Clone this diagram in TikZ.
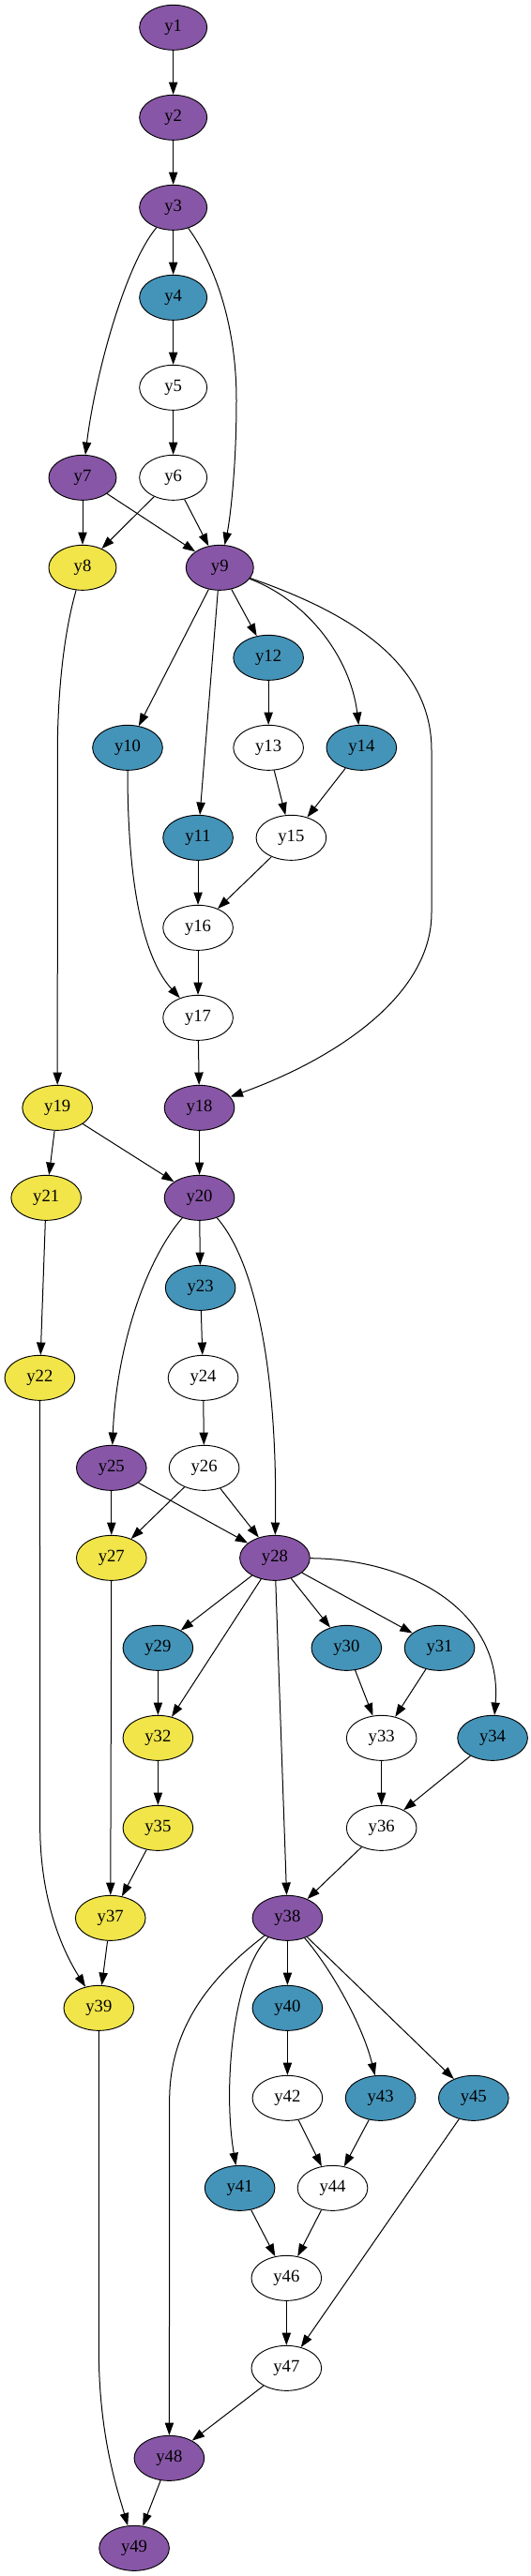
\documentclass[tikz,border=0pt]{standalone}
\usepackage{fontspec}
\setmainfont{Liberation Serif}
\usetikzlibrary{arrows.meta,shapes.geometric}
\definecolor{pur}{HTML}{8856A7}
\definecolor{blu}{HTML}{4494B9}
\definecolor{yel}{HTML}{F1E54A}
\tikzset{
  nd/.style={ellipse, draw=black, line width=0.7pt, inner sep=0pt, minimum width=56pt, minimum height=36pt, font=\fontsize{14}{16}\selectfont},
  nds/.style={nd, minimum width=54pt},
  P/.style={fill=pur}, B/.style={fill=blu}, Y/.style={fill=yel}, W/.style={fill=white},
  e/.style={draw=black, line width=0.75pt, -{Triangle[length=10pt,width=7pt]}}
}
\begin{document}
\begin{tikzpicture}[x=1pt,y=-1pt]
\useasboundingbox (0,0) rectangle (423.75,2060.25);
% rank r: y = 22 + 72 r
\node[nds,P] (y1) at (138.5,22) {y1};
\node[nds,P] (y2) at (138.5,94) {y2};
\node[nds,P] (y3) at (138.5,166) {y3};
\node[nds,B] (y4) at (138.5,238) {y4};
\node[nds,W] (y5) at (138.5,310) {y5};
\node[nds,W] (y6) at (138.5,382) {y6};
\node[nds,P] (y7) at (66,382) {y7};
\node[nds,Y] (y8) at (66,454) {y8};
\node[nds,P] (y9) at (175.7,454) {y9};
\node[nd,B] (y12) at (214.6,526) {y12};
\node[nd,B] (y10) at (102,598) {y10};
\node[nd,W] (y13) at (214.6,598) {y13};
\node[nd,B] (y14) at (289,598) {y14};
\node[nd,B] (y11) at (158.3,670) {y11};
\node[nd,W] (y15) at (232.8,670) {y15};
\node[nd,W] (y16) at (158.3,742) {y16};
\node[nd,W] (y17) at (158.3,814) {y17};
\node[nd,Y] (y19) at (45.9,886) {y19};
\node[nd,P] (y18) at (159.4,886) {y18};
\node[nd,Y] (y21) at (36.9,958) {y21};
\node[nd,P] (y20) at (159.4,958) {y20};
\node[nd,B] (y23) at (160.2,1030) {y23};
\node[nd,Y] (y22) at (31.8,1102) {y22};
\node[nd,W] (y24) at (162.4,1102) {y24};
\node[nd,P] (y25) at (89.1,1174) {y25};
\node[nd,W] (y26) at (163.2,1174) {y26};
\node[nd,Y] (y27) at (89.1,1246) {y27};
\node[nd,P] (y28) at (219.7,1246) {y28};
\node[nd,B] (y29) at (126.3,1318) {y29};
\node[nd,B] (y30) at (277,1318) {y30};
\node[nd,B] (y31) at (351.4,1318) {y31};
\node[nd,Y] (y32) at (126.3,1390) {y32};
\node[nd,W] (y33) at (305,1390) {y33};
\node[nd,B] (y34) at (393.8,1390) {y34};
\node[nd,Y] (y35) at (126.3,1462) {y35};
\node[nd,W] (y36) at (305,1462) {y36};
\node[nd,Y] (y37) at (88.3,1534) {y37};
\node[nd,P] (y38) at (229.8,1534) {y38};
\node[nd,Y] (y39) at (79,1606) {y39};
\node[nd,B] (y40) at (229.8,1606) {y40};
\node[nd,W] (y42) at (229.8,1678) {y42};
\node[nd,B] (y43) at (304.2,1678) {y43};
\node[nd,B] (y45) at (378.6,1678) {y45};
\node[nd,B] (y41) at (191.7,1750) {y41};
\node[nd,W] (y44) at (265.9,1750) {y44};
\node[nd,W] (y46) at (229,1822) {y46};
\node[nd,W] (y47) at (229,1894) {y47};
\node[nd,P] (y48) at (135.3,1966) {y48};
\node[nd,P] (y49) at (107.3,2038) {y49};

% straight edges
\foreach \a/\b in {y1/y2,y2/y3,y3/y4,y4/y5,y5/y6,y6/y8,y6/y9,y7/y8,y7/y9,
  y9/y10,y9/y11,y9/y12,y11/y16,y12/y13,y13/y15,y14/y15,y15/y16,y16/y17,y17/y18,
  y18/y20,y19/y20,y19/y21,y20/y23,y21/y22,y23/y24,y24/y26,y25/y27,y25/y28,y26/y27,y26/y28,
  y27/y37,y28/y29,y28/y30,y28/y31,y28/y32,y28/y38,y29/y32,y30/y33,y31/y33,y32/y35,
  y33/y36,y34/y36,y35/y37,y36/y38,y37/y39,y38/y40,y38/y45,y40/y42,y41/y46,y42/y44,
  y43/y44,y44/y46,y45/y47,y46/y47,y47/y48,y48/y49}
  \draw[e] (\a) -- (\b);

% curved edges
\draw[e] (y3) .. controls (100,212) and (76,300) .. (y7);
\draw[e] (y3) .. controls (172,212) and (189,260) .. (189,320) .. controls (189,380) and (183,420) .. (y9);
\draw[e] (y8) .. controls (50,510) and (46,560) .. (46,600) -- (y19);
\draw[e] (y9) .. controls (245,480) and (280,525) .. (y14);
\draw[e] (y9) .. controls (280,490) and (345,530) .. (345,600) -- (345,730) .. controls (345,800) and (260,850) .. (y18);
\draw[e] (y10) .. controls (102,720) and (118,770) .. (y17);
\draw[e] (y20) .. controls (115,1010) and (93,1080) .. (y25);
\draw[e] (y20) .. controls (205,1010) and (222,1100) .. (y28);
\draw[e] (y22) -- (32,1460) .. controls (32,1520) and (50,1560) .. (y39);
\draw[e] (y28) .. controls (330,1247) and (402,1290) .. (y34);
\draw[e] (y38) .. controls (186,1578) and (178,1670) .. (y41);
\draw[e] (y38) .. controls (265,1575) and (290,1620) .. (y43);
\draw[e] (y38) .. controls (170,1580) and (135.5,1620) .. (135.5,1680) -- (y48);
\draw[e] (y39) -- (79,1880) .. controls (79,1950) and (95,1995) .. (y49);
\end{tikzpicture}
\end{document}
